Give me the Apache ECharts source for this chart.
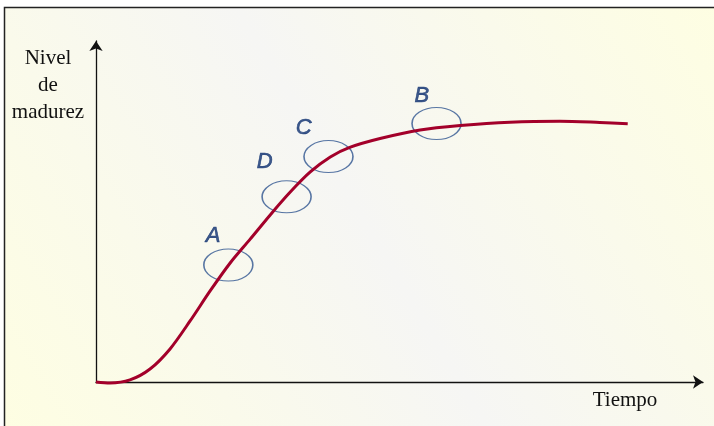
<!DOCTYPE html>
<html>
<head>
<meta charset="utf-8">
<script src="https://cdn.jsdelivr.net/npm/echarts@6/dist/echarts.min.js"></script>
<style>
html,body{margin:0;padding:0;background:#fff;}
#chart{width:714px;height:426px;}
</style>
</head>
<body>
<div id="chart"></div>
<script>
// Curve: time (x) vs maturity level (y), arbitrary 0-100 units
var curveX = [0, 2.3, 5.6, 8.9, 12.2, 15.5, 18.8, 22.1, 25.4, 28.7, 32.0, 35.3, 38.6, 41.8, 46.8, 53.4, 60.0, 68.2, 76.4, 83.0, 87.6];
var curveY = [0, -0.3, 0.6, 3.8, 9.7, 17.9, 26.7, 34.9, 41.9, 49.0, 55.7, 61.6, 66.0, 68.8, 71.4, 73.9, 75.2, 76.2, 76.5, 76.1, 75.7];

// Highlighted points (ellipses) and their letters
var markNames = ['A', 'D', 'C', 'B'];
var markX = [21.8, 31.4, 38.3, 56.1];
var markY = [34.3, 54.3, 66.1, 75.8];
var letterX = [19.3, 27.8, 34.2, 53.7];
var letterY = [42.8, 64.6, 74.6, 83.9];

var yTitle = 'Nivel\nde\nmadurez';
var xTitle = 'Tiempo';

var chart = echarts.init(document.getElementById('chart'), null, {renderer: 'canvas'});

var lineData = curveX.map(function (x, i) { return [x, curveY[i]]; });
var ellData = markX.map(function (x, i) { return [x, markY[i]]; });
var letData = letterX.map(function (x, i) { return {value: [x, letterY[i]], name: markNames[i]}; });

chart.setOption({
  backgroundColor: '#ffffff',
  animation: false,
  grid: {left: 96, right: 11, top: 41, bottom: 44},
  xAxis: {
    type: 'value', min: 0, max: 100,
    axisLine: {show: true, symbol: ['none', 'arrow'], symbolSize: [10, 10], lineStyle: {color: '#111', width: 1.3}},
    axisTick: {show: false}, axisLabel: {show: false}, splitLine: {show: false}
  },
  yAxis: {
    type: 'value', min: 0, max: 100,
    axisLine: {show: true, symbol: ['none', 'arrow'], symbolSize: [10, 10], lineStyle: {color: '#111', width: 1.3}},
    axisTick: {show: false}, axisLabel: {show: false}, splitLine: {show: false}
  },
  graphic: [
    {
      type: 'rect', z: -10, silent: true,
      shape: {x: 4.5, y: 7.5, width: 720, height: 430},
      style: {
        fill: new echarts.graphic.LinearGradient(1, 0, 0, 1, [
          {offset: 0, color: '#fefee2'},
          {offset: 0.5, color: '#f6f6f4'},
          {offset: 1, color: '#fefee2'}
        ]),
        stroke: '#222', lineWidth: 1.5
      }
    },
    {
      type: 'text', silent: true, z: 5,
      x: 48, y: 85,
      style: {
        text: yTitle, x: 0, y: 0,
        font: '21px "Liberation Serif", "Times New Roman", serif',
        fill: '#111', textAlign: 'center', textVerticalAlign: 'middle', lineHeight: 27
      }
    },
    {
      type: 'text', silent: true, z: 5,
      x: 625, y: 400,
      style: {
        text: xTitle,
        font: '21px "Liberation Serif", "Times New Roman", serif',
        fill: '#111', textAlign: 'center', textVerticalAlign: 'middle'
      }
    }
  ],
  series: [
    {
      type: 'scatter', z: 2, data: ellData,
      symbol: 'circle', symbolSize: [49, 32],
      itemStyle: {color: 'rgba(0,0,0,0)', borderColor: '#2f5590', borderWidth: 1.3},
      silent: true
    },
    {
      type: 'line', z: 3, data: lineData, smooth: 0.3, clip: false,
      showSymbol: false, symbol: 'none',
      lineStyle: {color: '#a3002a', width: 3}
    },
    {
      type: 'scatter', z: 4, data: letData,
      symbolSize: 0, silent: true,
      label: {
        show: true, position: 'inside',
        formatter: function (p) { return p.name; },
        fontFamily: '"Liberation Sans", Arial, sans-serif',
        fontStyle: 'italic', fontSize: 22, color: '#0f3170',
        textBorderColor: '#0f3170', textBorderWidth: 0.6
      }
    }
  ]
});
</script>
</body>
</html>
